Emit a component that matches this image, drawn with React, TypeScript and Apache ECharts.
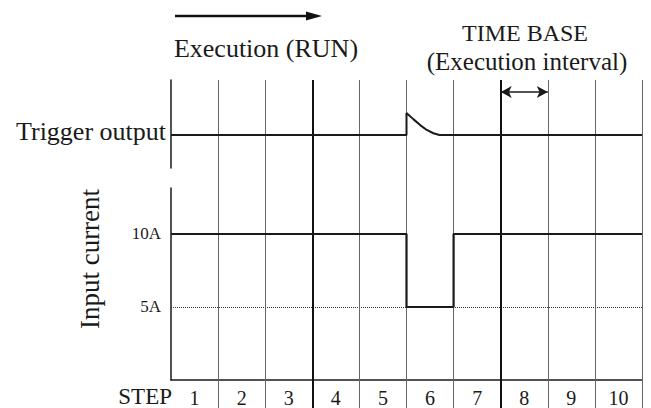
import React, { useEffect, useRef } from "react";
import * as echarts from "echarts";

// ---- data ----
const steps = ["1", "2", "3", "4", "5", "6", "7", "8", "9", "10"];
const stepBoundaries = [1, 2, 3, 4, 5, 6, 7, 8, 9, 10];
const thickBoundaries = [3, 7];
// Trigger output (relative level), x in steps
const triggerX = [0, 5, 5, 5.15, 5.29, 5.43, 5.57, 5.7, 10];
const triggerY = [0, 0, 1, 0.71, 0.45, 0.23, 0.08, 0, 0];
// Input current (A), x in steps
const currentX = [0, 5, 5, 6, 6, 10];
const currentY = [10, 10, 5, 5, 10, 10];
const currentTicks = [5, 10];
const currentTickLabels = ["5A", "10A"];
const dottedLevel = 5;
// TIME BASE arrow spans one step
const timeBaseFrom = 7;
const timeBaseTo = 8;

const FONT = "'Liberation Serif', 'Times New Roman', 'DejaVu Serif', serif";
const INK = "#1a1a1a";

export default function App() {
  const ref = useRef<HTMLDivElement>(null);

  useEffect(() => {
    if (!ref.current) return;
    const chart = echarts.init(ref.current, undefined, { renderer: "svg" });

    const left = 171;
    const right = 9;

    const option: any = {
      animation: false,
      backgroundColor: "#ffffff",
      grid: [
        { left, right, top: 80, bottom: 0 }, // frame for vertical step lines
        { left, right, top: 80, height: 88 }, // trigger output
        { left, right, top: 188, height: 192 }, // input current
      ],
      xAxis: [
        { gridIndex: 0, type: "value", min: 0, max: 10, show: false },
        { gridIndex: 1, type: "value", min: 0, max: 10, show: false },
        { gridIndex: 2, type: "value", min: 0, max: 10, show: false, position: "top" },
        {
          gridIndex: 2,
          type: "category",
          data: steps,
          position: "bottom",
          boundaryGap: true,
          axisLine: { show: true, lineStyle: { color: INK, width: 1.5 } },
          axisTick: { show: false },
          splitLine: { show: false },
          axisLabel: {
            show: true,
            interval: 0,
            margin: 8,
            fontSize: 20,
            fontFamily: FONT,
            color: INK,
          },
        },
      ],
      yAxis: [
        { gridIndex: 0, type: "value", min: 0, max: 328, inverse: true, show: false },
        {
          gridIndex: 1,
          type: "value",
          min: -1.5,
          max: 2.5,
          axisLine: { show: true, onZero: false, lineStyle: { color: INK, width: 1.5 } },
          axisTick: { show: false },
          axisLabel: { show: false },
          splitLine: { show: false },
        },
        {
          gridIndex: 2,
          type: "value",
          min: 0,
          max: 13.15,
          interval: 5,
          axisLine: { show: true, onZero: false, lineStyle: { color: INK, width: 1.5 } },
          axisTick: { show: false },
          splitLine: { show: false },
          axisLabel: {
            show: true,
            margin: 10,
            fontSize: 17,
            fontFamily: FONT,
            color: INK,
            showMinLabel: false,
            showMaxLabel: false,
            formatter: (v: number) => {
              const i = currentTicks.indexOf(v);
              return i >= 0 ? currentTickLabels[i] : "";
            },
          },
        },
      ],
      series: [
        {
          type: "line",
          xAxisIndex: 0,
          yAxisIndex: 0,
          data: [[0, 0]],
          showSymbol: false,
          lineStyle: { opacity: 0 },
          silent: true,
          markLine: {
            silent: true,
            animation: false,
            symbol: "none",
            label: { show: false },
            data: [
              ...stepBoundaries.map((b) => ({
                xAxis: b,
                lineStyle: thickBoundaries.includes(b)
                  ? { color: "#111", width: 2, type: "solid" }
                  : { color: "#666", width: 1, type: "solid" },
              })),
              [
                {
                  coord: [timeBaseFrom, 12],
                  symbol: "arrow",
                  symbolSize: [9, 11],
                  lineStyle: { color: INK, width: 1.5, type: "solid" },
                },
                { coord: [timeBaseTo, 12], symbol: "arrow", symbolSize: [9, 11] },
              ],
            ],
          },
        },
        {
          type: "line",
          xAxisIndex: 1,
          yAxisIndex: 1,
          data: triggerX.map((x, i) => [x, triggerY[i]]),
          showSymbol: false,
          smooth: false,
          lineStyle: { color: INK, width: 2 },
          z: 5,
        },
        {
          type: "line",
          xAxisIndex: 2,
          yAxisIndex: 2,
          data: currentX.map((x, i) => [x, currentY[i]]),
          showSymbol: false,
          lineStyle: { color: INK, width: 2.2 },
          z: 5,
          markLine: {
            silent: true,
            animation: false,
            symbol: "none",
            label: { show: false },
            lineStyle: { color: "#333", width: 1, type: "dotted" },
            data: [{ yAxis: dottedLevel }],
            z: 1,
          },
        },
      ],
      graphic: [
        {
          type: "line",
          shape: { x1: 175, y1: 16, x2: 310, y2: 16 },
          style: { stroke: "#111", lineWidth: 2.5 },
        },
        {
          type: "polygon",
          shape: { points: [[306, 11.5], [322, 16], [306, 20.5]] },
          style: { fill: "#111" },
        },
        {
          type: "text",
          x: 266,
          y: 48,
          style: {
            text: "Execution (RUN)",
            fontSize: 26,
            fontFamily: FONT,
            fill: INK,
            align: "center",
            verticalAlign: "middle",
          },
        },
        {
          type: "text",
          x: 525,
          y: 33,
          style: {
            text: "TIME BASE",
            fontSize: 24,
            fontFamily: FONT,
            fill: INK,
            align: "center",
            verticalAlign: "middle",
          },
        },
        {
          type: "text",
          x: 527,
          y: 61,
          style: {
            text: "(Execution interval)",
            fontSize: 25,
            fontFamily: FONT,
            fill: INK,
            align: "center",
            verticalAlign: "middle",
          },
        },
        {
          type: "text",
          x: 166,
          y: 131,
          style: {
            text: "Trigger output",
            fontSize: 26,
            fontFamily: FONT,
            fill: INK,
            align: "right",
            verticalAlign: "middle",
          },
        },
        {
          type: "text",
          x: 90,
          y: 259,
          rotation: Math.PI / 2,
          style: {
            text: "Input current",
            fontSize: 27,
            fontFamily: FONT,
            fill: INK,
            align: "center",
            verticalAlign: "middle",
          },
        },
        {
          type: "text",
          x: 172,
          y: 396,
          style: {
            text: "STEP",
            fontSize: 23,
            fontFamily: FONT,
            fill: INK,
            align: "right",
            verticalAlign: "middle",
          },
        },
      ],
    };

    chart.setOption(option);
    return () => chart.dispose();
  }, []);

  return (
    <div
      ref={ref}
      style={{ position: "fixed", left: 0, top: 0, width: 651, height: 408, background: "#fff" }}
    />
  );
}
